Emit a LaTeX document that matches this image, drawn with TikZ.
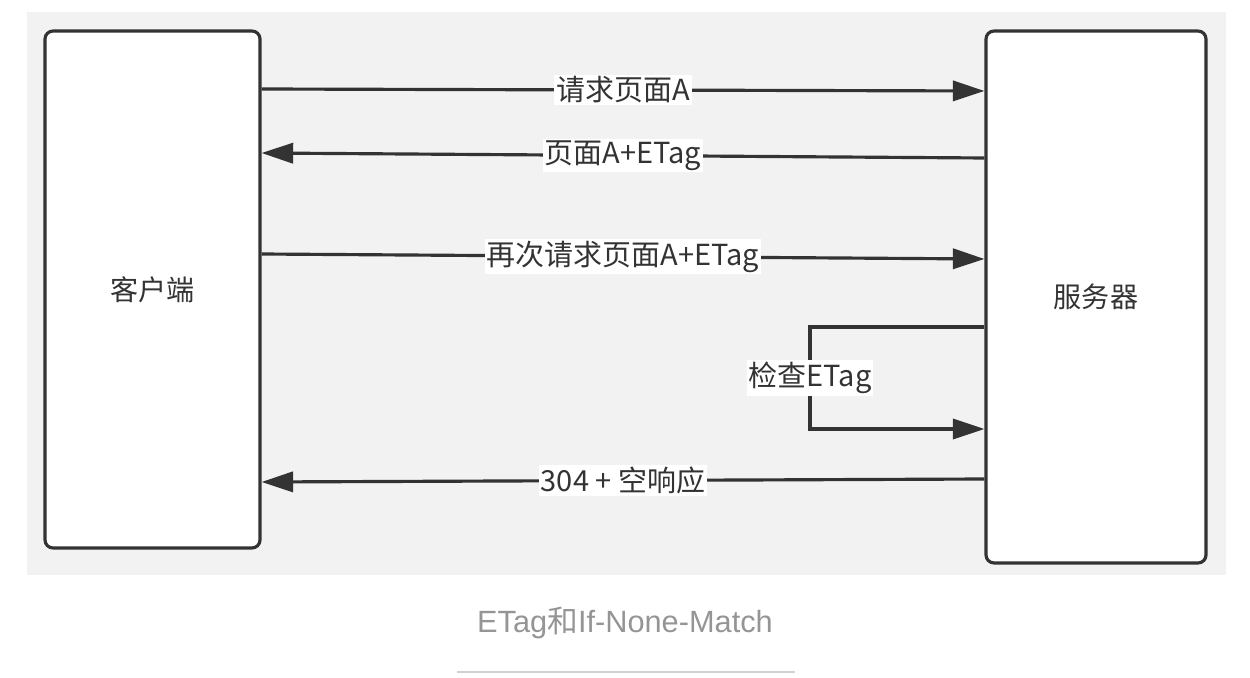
\documentclass[tikz,border=0pt]{standalone}
\usepackage{fontspec}
\setmainfont{Liberation Sans}
\newfontfamily\cjk{Noto Sans CJK SC}
\usetikzlibrary{arrows.meta}
\definecolor{bggray}{HTML}{F2F2F2}
\definecolor{linegray}{HTML}{333333}
\definecolor{capgray}{HTML}{959595}
\tikzset{
  party/.style={draw=linegray, line width=1.8pt, rounded corners=4.5pt, fill=white,
    font=\cjk\fontsize{16}{19}\selectfont, text=linegray},
  msg/.style={draw=linegray, line width=1.8pt, -{Triangle[length=18pt,width=11.5pt]}},
  msglabel/.style={fill=white, inner sep=1pt, font=\cjk\fontsize{16.5}{19}\selectfont, text=linegray}
}
\begin{document}
\begin{tikzpicture}[x=0.02cm, y=-0.02cm]
\useasboundingbox (0,0) rectangle (1250,678);
\fill[bggray] (27,12) rectangle (1226,575);
\node[party, minimum width=4.3cm, minimum height=10.34cm] (client) at (152.5,289.5) {客户端};
\node[party, minimum width=4.4cm, minimum height=10.64cm] (server) at (1096,297) {服务器};
\coordinate (ck1) at (810,327);
\coordinate (ck2) at (810,429);
\draw[msg] (client.east |- 0,89) -- node[msglabel] {请求页面A} (server.west |- 0,91);
\draw[msg] (server.west |- 0,158) -- node[msglabel] {页面A+ETag} (client.east |- 0,153);
\draw[msg] (client.east |- 0,254) -- node[msglabel] {再次请求页面A+ETag} (server.west |- 0,259);
\draw[msg] (server.west |- ck1) -- (ck1) -- node[msglabel] {检查ETag} (ck2) -- (server.west |- ck2);
\draw[msg] (server.west |- 0,479) -- node[msglabel] {304 + 空响应} (client.east |- 0,482);
% caption
\node[text=capgray, font=\fontsize{17.5}{20}\selectfont] (caption) at (625,623) {ETag{\cjk 和}If-None-Match};
\draw[black!18, line width=1pt] (457,672) -- (795,672);
\end{tikzpicture}
\end{document}
